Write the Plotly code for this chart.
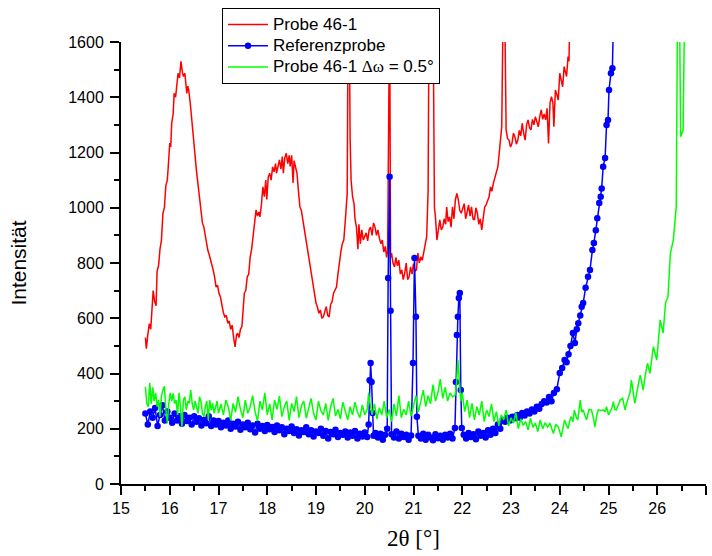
import plotly.graph_objects as go

# ---------------- data ----------------
red_x = [15.50,15.52,15.55,15.58,15.61,15.64,15.66,15.69,15.72,15.74,15.77,15.80,15.83,15.86,15.89,15.92,15.95,15.97,
         16.00,16.02,16.04,16.07,16.09,16.12,16.14,16.17,16.20,16.23,16.26,16.28,16.31,16.33,16.35,16.37,16.39,16.42,16.44,16.46,16.48,
         16.50,16.52,16.55,16.57,16.60,16.62,16.65,16.67,16.70,16.72,16.75,16.78,16.81,16.84,16.87,16.89,16.92,16.95,16.98,
         17.01,17.04,17.07,17.10,17.13,17.16,17.19,17.22,17.25,17.28,17.31,17.34,17.37,17.39,17.42,17.45,17.48,
         17.51,17.53,17.56,17.59,17.62,17.65,17.68,17.71,17.74,17.77,17.80,17.83,17.85,17.88,17.91,17.94,17.97,17.99,
         18.02,18.05,18.08,18.11,18.14,18.17,18.19,18.22,18.25,18.28,18.31,18.33,18.36,18.39,18.42,18.45,18.47,
         18.50,18.53,18.55,18.58,18.61,18.64,18.67,18.70,18.73,18.76,18.79,18.82,18.85,18.88,18.91,18.94,18.97,
         19.00,19.03,19.06,19.09,19.12,19.15,19.18,19.21,19.24,19.27,19.30,19.33,19.36,19.39,19.42,19.45,19.48,
         19.51,19.54,19.57,19.60,19.62,19.64,19.66,19.68,19.70,19.72,19.75,19.78,19.80,19.83,19.86,19.88,19.91,19.94,19.97,
         20.00,20.03,20.06,20.09,20.12,20.15,20.18,20.21,20.24,20.27,20.30,20.33,20.36,20.39,20.42,20.45,20.47,20.49,
         20.51,20.53,20.55,20.58,20.61,20.64,20.67,20.70,20.73,20.76,20.79,20.82,20.85,20.88,20.91,20.94,20.97,
         21.00,21.03,21.06,21.09,21.12,21.15,21.18,21.21,21.24,21.27,21.30,21.32,21.36,21.40,21.43,21.45,21.48,
         21.51,21.54,21.57,21.60,21.63,21.66,21.68,21.71,21.74,21.77,21.80,21.83,21.86,21.89,21.92,21.95,21.98,
         22.01,22.04,22.07,22.10,22.13,22.16,22.19,22.22,22.25,22.28,22.31,22.34,22.37,22.40,22.43,22.46,22.49,
         22.52,22.55,22.58,22.61,22.64,22.67,22.70,22.73,22.76,22.78,22.81,22.84,22.87,22.90,22.93,22.96,22.99,
         23.02,23.05,23.08,23.11,23.14,23.17,23.20,23.23,23.26,23.29,23.32,23.35,23.38,23.41,23.44,23.47,
         23.50,23.53,23.56,23.59,23.62,23.65,23.68,23.71,23.74,23.77,23.80,23.83,23.86,23.88,23.91,23.94,23.97,
         24.00,24.03,24.06,24.09,24.12,24.14,24.17,24.19,24.21]
red_y = [530,490,540,580,560,650,700,660,645,770,790,850,883,980,1000,1080,1100,1150,
         1234,1220,1306,1340,1414,1400,1437,1487,1470,1530,1490,1475,1487,1440,1414,1440,1425,1380,1342,1300,1245,
         1200,1162,1130,1100,1050,1003,970,945,930,909,870,847,830,811,790,775,750,713,720,
         690,677,640,620,605,610,582,590,560,575,530,496,540,546,530,560,570,
         640,691,700,750,760,822,850,894,930,992,970,985,967,1010,1076,1040,1100,1030,
         1110,1125,1100,1148,1130,1160,1125,1150,1173,1140,1185,1125,1180,1197,1160,1190,1150,
         1190,1090,1170,1140,1125,1060,1003,990,956,930,883,860,820,786,750,713,690,
         655,640,618,630,600,605,625,642,610,605,650,660,691,700,713,760,811,
         840,870,883,950,1003,1052,1750,1750,1245,1100,1040,1015,960,930,850,940,870,920,883,
         900,909,880,920,930,900,945,930,900,920,890,870,883,840,860,820,847,1750,
         1750,820,836,800,786,820,790,810,760,775,740,763,800,740,750,786,760,
         798,770,775,836,800,822,810,840,860,895,1064,1750,1460,1750,1000,967,883,
         930,956,920,930,960,940,1003,950,967,930,1003,960,1030,1052,1028,990,980,
         1000,1015,960,980,1010,970,1003,960,956,1000,980,940,960,920,970,1003,1010,
         1028,1040,1076,1060,1090,1112,1130,1148,1200,1245,1293,1750,1750,1282,1250,1245,1220,
         1233,1270,1257,1230,1245,1280,1260,1306,1270,1245,1300,1318,1290,1282,1320,1300,
         1330,1310,1293,1330,1354,1320,1340,1318,1360,1233,1378,1402,1380,1293,1426,1410,1390,
         1487,1460,1438,1511,1490,1475,1547,1530,1750]

blue_x = [15.50,15.55,15.60,15.65,15.70,15.75,15.80,15.85,15.90,15.95,16.00,16.05,16.10,16.15,16.20,16.25,16.30,16.35,16.40,16.45,
          16.50,16.55,16.60,16.65,16.70,16.75,16.80,16.85,16.90,16.95,17.00,17.05,17.10,17.15,17.20,17.25,17.30,17.35,17.40,17.45,
          17.50,17.55,17.60,17.65,17.70,17.75,17.80,17.85,17.90,17.95,18.00,18.05,18.10,18.15,18.20,18.25,18.30,18.35,18.40,18.45,
          18.50,18.55,18.60,18.65,18.70,18.75,18.80,18.85,18.90,18.95,19.00,19.05,19.10,19.15,19.20,19.25,19.30,19.35,19.40,19.45,
          19.50,19.55,19.60,19.65,19.70,19.75,19.80,19.85,19.90,19.95,20.00,20.05,20.08,20.10,20.12,20.14,20.16,20.18,20.22,20.27,
          20.32,20.37,20.42,20.46,20.48,20.51,20.53,20.55,20.60,20.65,20.70,20.75,20.80,20.85,20.90,20.95,20.99,21.02,21.05,21.07,
          21.10,21.15,21.20,21.25,21.30,21.35,21.40,21.45,21.50,21.55,21.60,21.65,21.70,21.75,21.80,21.85,21.87,21.89,21.91,21.93,
          21.95,21.97,21.99,22.03,22.08,22.13,22.18,22.23,22.28,22.33,22.38,22.43,22.48,22.53,22.58,22.63,22.68,22.73,22.78,22.83,
          22.88,22.93,22.98,23.03,23.08,23.13,23.18,23.23,23.28,23.33,23.38,23.43,23.48,23.53,23.58,23.63,23.68,23.73,23.78,23.83,
          23.88,23.94,24.00,24.05,24.10,24.14,24.18,24.22,24.27,24.31,24.35,24.38,24.42,24.45,24.48,24.53,24.58,24.62,24.67,24.70,
          24.74,24.77,24.81,24.84,24.86,24.89,24.93,24.96,24.99,25.01,25.05,25.08,25.11]
blue_y = [255,215,262,240,275,210,250,285,230,262,240,222,255,230,245,218,250,228,240,215,
          245,225,238,212,232,220,245,210,230,215,228,205,222,212,230,200,218,208,225,196,
          215,205,222,198,212,186,218,200,210,192,214,198,206,188,212,195,205,180,200,192,
          208,185,198,176,195,188,205,180,195,172,190,185,200,175,192,165,188,180,196,170,
          185,178,190,168,186,175,192,165,182,172,186,170,215,376,438,369,257,175,185,168,
          182,160,178,200,746,1112,627,180,168,190,165,182,170,178,160,176,438,818,605,243,
          175,165,182,160,178,168,158,180,166,175,160,178,168,182,165,203,369,539,605,673,
          691,340,203,178,165,185,170,180,162,190,175,185,168,195,178,200,185,215,200,232,
          225,240,230,243,238,250,240,257,248,262,255,270,262,280,272,290,300,295,315,300,
          329,343,402,420,449,441,470,500,547,510,560,582,610,642,655,710,750,775,847,872,
          919,962,1017,1040,1070,1148,1180,1300,1318,1426,1487,1505,1750]

green_x = [15.50,15.53,15.56,15.59,15.62,15.65,15.68,15.71,15.74,15.77,15.80,15.83,15.86,15.89,15.92,15.95,15.98,
           16.01,16.04,16.07,16.10,16.13,16.16,16.19,16.22,16.25,16.28,16.31,16.34,16.37,16.40,16.43,16.46,16.49,
           16.52,16.55,16.58,16.61,16.64,16.67,16.70,16.73,16.76,16.79,16.82,16.85,16.88,16.91,16.94,16.97,17.00,
           17.05,17.10,17.15,17.20,17.25,17.30,17.35,17.40,17.45,17.50,17.55,17.60,17.65,17.70,17.75,17.80,17.85,17.90,17.95,
           18.00,18.05,18.10,18.15,18.20,18.25,18.30,18.35,18.40,18.45,18.50,18.55,18.60,18.65,18.70,18.75,18.80,18.85,18.90,18.95,
           19.00,19.05,19.10,19.15,19.20,19.25,19.30,19.35,19.40,19.45,19.50,19.55,19.60,19.65,19.70,19.75,19.80,19.85,19.90,19.95,
           20.00,20.05,20.08,20.10,20.15,20.20,20.25,20.30,20.35,20.40,20.45,20.50,20.55,20.60,20.65,20.70,20.75,20.80,20.85,20.90,20.95,
           21.00,21.05,21.10,21.15,21.20,21.25,21.30,21.35,21.40,21.45,21.50,21.55,21.60,21.65,21.70,21.75,21.80,21.85,21.88,21.91,21.94,21.97,
           22.00,22.05,22.10,22.15,22.20,22.25,22.30,22.35,22.40,22.45,22.50,22.55,22.60,22.65,22.70,22.75,22.80,22.85,22.90,22.95,
           23.00,23.05,23.10,23.15,23.20,23.25,23.30,23.35,23.40,23.45,23.50,23.55,23.60,23.65,23.70,23.75,23.80,23.84,23.87,23.92,23.97,
           24.03,24.07,24.10,24.14,24.17,24.20,24.23,24.27,24.30,24.34,24.37,24.42,24.45,24.48,24.52,24.55,24.60,24.65,24.69,24.72,24.76,24.79,
           24.84,24.89,24.93,24.96,25.00,25.03,25.07,25.10,25.13,25.16,25.20,25.24,25.29,25.34,25.37,25.40,25.44,25.47,25.51,25.54,
           25.60,25.65,25.68,25.71,25.76,25.80,25.85,25.88,25.92,25.99,26.03,26.06,26.12,26.17,26.22,26.27,26.33,26.39,26.42,26.45,26.48,26.53,26.57]
green_y = [352,290,280,366,290,350,300,330,280,305,244,318,340,354,270,220,290,
           330,300,328,292,304,250,330,280,207,304,316,268,300,292,340,292,268,
           300,280,256,316,300,256,244,280,300,232,304,268,292,256,280,300,256,
           290,250,304,280,230,292,260,316,270,240,304,256,280,320,262,228,300,268,330,
           250,290,232,304,270,318,244,280,300,230,292,262,316,240,282,300,238,270,310,256,
           232,300,265,250,292,230,280,310,246,270,236,296,262,232,280,250,296,260,240,286,
           250,270,330,300,250,290,236,276,250,300,240,270,226,290,246,320,240,270,250,300,246,
           280,320,260,300,340,280,320,290,360,300,330,380,310,350,300,330,316,320,360,449,352,300,
           330,262,304,240,292,232,280,250,300,226,268,244,290,226,262,210,250,232,268,210,
           240,220,258,200,236,212,226,196,238,205,220,190,232,200,222,206,220,195,183,215,207,
           171,200,232,210,201,225,244,225,268,240,232,304,260,268,250,232,270,268,240,207,250,268,
           266,268,262,280,250,262,275,298,270,268,290,304,310,268,290,304,330,376,320,292,
           350,394,370,340,400,437,400,450,497,449,540,594,546,655,678,835,884,1004,1850,1850,1257,1281,1850]

x_ticks = [15, 16, 17, 18, 19, 20, 21, 22, 23, 24, 25, 26, 27]
y_ticks = [0, 200, 400, 600, 800, 1000, 1200, 1400, 1600]

SANS = "Liberation Sans, Arial, sans-serif"
SERIF = "Liberation Serif, Times New Roman, serif"

def leg(txt):
    return '<span style="font-size:17px">' + txt + '</span>'

fig = go.Figure()
fig.add_trace(go.Scatter(x=red_x, y=red_y, mode="lines", name=leg("Probe 46-1"),
                         line=dict(color="#FF0000", width=1.5)))
fig.add_trace(go.Scatter(x=blue_x, y=blue_y, mode="lines+markers", name=leg("Referenzprobe"),
                         line=dict(color="#0000FF", width=1.5),
                         marker=dict(color="#0000FF", size=6.5, symbol="circle")))
fig.add_trace(go.Scatter(x=green_x, y=green_y, mode="lines",
                         name=leg('Probe 46-1 <span style="font-family:Liberation Serif">Δω</span> = 0.5°'),
                         line=dict(color="#00FF00", width=1.5)))

fig.update_layout(
    width=712, height=556,
    margin=dict(l=121, r=6, t=42, b=72, autoexpand=False),
    paper_bgcolor="white", plot_bgcolor="white",
    font=dict(family=SANS, size=16, color="black"),
    showlegend=True,
    legend=dict(x=(222 - 121) / 585, y=(484 - 8) / 442, xanchor="left", yanchor="top",
                bgcolor="white", bordercolor="black", borderwidth=1,
                font=dict(family=SANS, size=14, color="black"),
                tracegroupgap=0, itemwidth=40),
    xaxis=dict(range=[15, 27], tickvals=x_ticks, ticktext=[str(v) for v in x_ticks],
               automargin=False,
               showgrid=False, zeroline=False, showline=True, linecolor="black", linewidth=2,
               ticks="outside", ticklen=9, tickwidth=1.5, tickcolor="black",
               minor=dict(dtick=0.5, ticks="outside", ticklen=5, tickwidth=1.5, tickcolor="black"),
               tickfont=dict(family=SANS, size=16),
               title=dict(text="2θ [°]", font=dict(family=SERIF, size=23), standoff=14)),
    yaxis=dict(range=[0, 1600], tickvals=y_ticks, ticktext=[str(v) for v in y_ticks],
               automargin=False,
               showgrid=False, zeroline=False, showline=True, linecolor="black", linewidth=2,
               ticks="outside", ticklen=9, tickwidth=1.5, tickcolor="black",
               minor=dict(dtick=100, ticks="outside", ticklen=5, tickwidth=1.5, tickcolor="black"),
               tickfont=dict(family=SANS, size=16), ticklabelstandoff=3,
               title=dict(text="Intensität", font=dict(family=SANS, size=21), standoff=36)),
)

fig.write_html("out.html", config={"displayModeBar": False},
               post_script="document.body.style.margin='0';document.body.style.padding='0';")
